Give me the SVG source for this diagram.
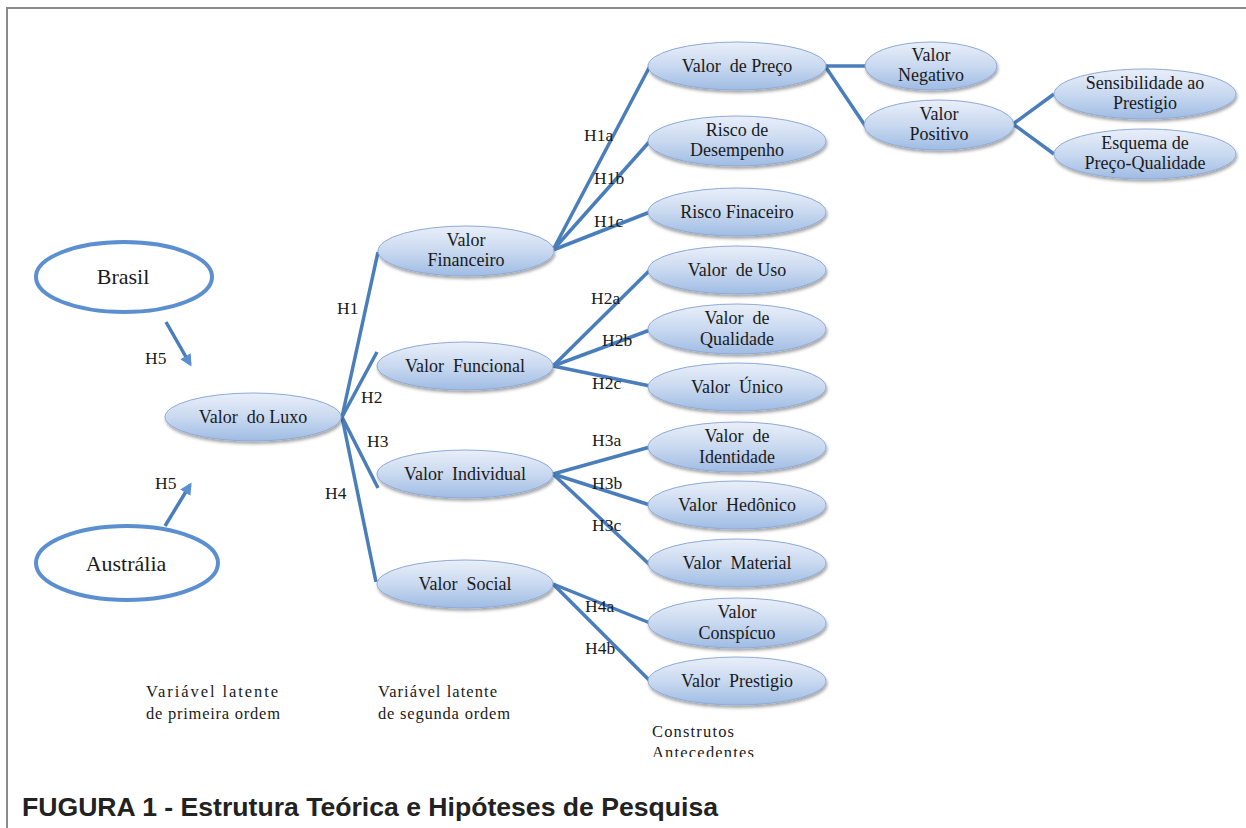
<svg xmlns="http://www.w3.org/2000/svg" width="1246" height="828" viewBox="0 0 1246 828">
<style>
.n{fill:url(#g);stroke:#8eaad6;stroke-width:1;filter:url(#sh)}
.o{fill:none;stroke:#5b8fd0;stroke-width:4}
.t{font-family:"Liberation Serif",serif;font-size:18px;fill:#1a1a1a;text-anchor:middle;white-space:pre}
.h{font-family:"Liberation Serif",serif;font-size:17.5px;fill:#1a1a1a}
.b{font-family:"Liberation Serif",serif;font-size:16.5px;fill:#1a1a1a}
.c line,.c path{stroke:#4a7ebb;stroke-width:3.5;fill:none}
</style>
<defs>
<linearGradient id="g" x1="0" y1="0" x2="0" y2="1">
<stop offset="0" stop-color="#e9eff9"/>
<stop offset="0.5" stop-color="#c9d9f0"/>
<stop offset="1" stop-color="#9fbce4"/>
</linearGradient>
<filter id="sh" x="-10%" y="-20%" width="120%" height="150%">
<feDropShadow dx="1" dy="2.5" stdDeviation="1.5" flood-color="#000" flood-opacity="0.35"/>
</filter>
<marker id="ah" markerWidth="14" markerHeight="14" refX="9" refY="6" orient="auto" markerUnits="userSpaceOnUse">
<path d="M0,0 L12,6 L0,12 Z" fill="#5b8fd0"/>
</marker>
<clipPath id="cl"><rect x="0" y="0" width="1246" height="757"/></clipPath>
</defs>
<rect width="1246" height="828" fill="#fff"/>
<path d="M7,828 V8 H1246" fill="none" stroke="#8a8a8a" stroke-width="2"/>

<g class="c" id="connectors">
<line x1="342" y1="417" x2="378" y2="252"/>
<line x1="342" y1="417" x2="377" y2="352"/>
<line x1="342" y1="417" x2="378" y2="488"/>
<line x1="342" y1="417" x2="376" y2="582"/>
<line x1="553" y1="250" x2="650" y2="66"/>
<line x1="553" y1="250" x2="650" y2="141"/>
<line x1="553" y1="250" x2="650" y2="212"/>
<line x1="553" y1="366" x2="650" y2="270"/>
<line x1="553" y1="366" x2="650" y2="330"/>
<line x1="553" y1="366" x2="650" y2="386"/>
<line x1="553" y1="474" x2="650" y2="447"/>
<line x1="553" y1="474" x2="650" y2="505"/>
<line x1="553" y1="474" x2="650" y2="565"/>
<line x1="553" y1="584" x2="650" y2="623"/>
<line x1="553" y1="584" x2="650" y2="681"/>
<path d="M825,66 H866"/>
<line x1="825" y1="66" x2="866" y2="127"/>
<line x1="1013" y1="124" x2="1054" y2="94"/>
<line x1="1013" y1="124" x2="1054" y2="154"/>
<line x1="166" y1="322" x2="190" y2="364" stroke="#5b8fd0" marker-end="url(#ah)"/>
<line x1="165" y1="526" x2="190" y2="485" stroke="#5b8fd0" marker-end="url(#ah)"/>
</g>

<g id="labels">
<text class="h" x="337" y="314">H1</text>
<text class="h" x="361" y="403">H2</text>
<text class="h" x="367" y="447">H3</text>
<text class="h" x="325" y="499">H4</text>
<text class="h" x="145" y="364">H5</text>
<text class="h" x="155" y="489">H5</text>
<text class="h" x="584" y="141">H1a</text>
<text class="h" x="594" y="184">H1b</text>
<text class="h" x="594" y="227">H1c</text>
<text class="h" x="591" y="304">H2a</text>
<text class="h" x="602" y="346">H2b</text>
<text class="h" x="592" y="389">H2c</text>
<text class="h" x="592" y="446">H3a</text>
<text class="h" x="592" y="489">H3b</text>
<text class="h" x="592" y="531">H3c</text>
<text class="h" x="585" y="612">H4a</text>
<text class="h" x="585" y="654">H4b</text>
</g>

<g id="brasil"><ellipse class="o" cx="124" cy="277" rx="88" ry="35"/><text class="t" x="123" y="284" style="font-size:22px">Brasil</text></g>
<g id="australia"><ellipse class="o" cx="127" cy="563" rx="91" ry="37"/><text class="t" x="126" y="571" style="font-size:22px">Austrália</text></g>

<g id="luxo"><ellipse class="n" cx="253" cy="417" rx="88" ry="24"/><text class="t" x="253" y="423">Valor  do Luxo</text></g>
<g id="financeiro"><ellipse class="n" cx="466" cy="251" rx="88" ry="25"/><text class="t" x="466" y="246">Valor</text><text class="t" x="466" y="266">Financeiro</text></g>
<g id="funcional"><ellipse class="n" cx="465" cy="366" rx="88" ry="24"/><text class="t" x="465" y="372">Valor  Funcional</text></g>
<g id="individual"><ellipse class="n" cx="465" cy="474" rx="88" ry="24"/><text class="t" x="465" y="480">Valor  Individual</text></g>
<g id="social"><ellipse class="n" cx="465" cy="584" rx="88" ry="24"/><text class="t" x="465" y="590">Valor  Social</text></g>

<g id="preco"><ellipse class="n" cx="737" cy="66" rx="89" ry="24"/><text class="t" x="737" y="72">Valor  de Preço</text></g>
<g id="desempenho"><ellipse class="n" cx="737" cy="141" rx="89" ry="25"/><text class="t" x="737" y="136">Risco de</text><text class="t" x="737" y="156">Desempenho</text></g>
<g id="finaceiro"><ellipse class="n" cx="737" cy="212" rx="89" ry="24"/><text class="t" x="737" y="218">Risco Finaceiro</text></g>
<g id="uso"><ellipse class="n" cx="737" cy="270" rx="89" ry="24"/><text class="t" x="737" y="276">Valor  de Uso</text></g>
<g id="qualidade"><ellipse class="n" cx="737" cy="329" rx="89" ry="25"/><text class="t" x="737" y="324">Valor  de</text><text class="t" x="737" y="345">Qualidade</text></g>
<g id="unico"><ellipse class="n" cx="737" cy="387" rx="89" ry="24"/><text class="t" x="737" y="393">Valor  Único</text></g>
<g id="identidade"><ellipse class="n" cx="737" cy="447" rx="89" ry="25"/><text class="t" x="737" y="442">Valor  de</text><text class="t" x="737" y="463">Identidade</text></g>
<g id="hedonico"><ellipse class="n" cx="737" cy="505" rx="89" ry="24"/><text class="t" x="737" y="511">Valor  Hedônico</text></g>
<g id="material"><ellipse class="n" cx="737" cy="563" rx="89" ry="24"/><text class="t" x="737" y="569">Valor  Material</text></g>
<g id="conspicuo"><ellipse class="n" cx="737" cy="623" rx="89" ry="25"/><text class="t" x="737" y="618">Valor</text><text class="t" x="737" y="639">Conspícuo</text></g>
<g id="prestigio"><ellipse class="n" cx="737" cy="681" rx="89" ry="24"/><text class="t" x="737" y="687">Valor  Prestigio</text></g>

<g id="negativo"><ellipse class="n" cx="931" cy="66" rx="66" ry="24"/><text class="t" x="931" y="61">Valor</text><text class="t" x="931" y="81">Negativo</text></g>
<g id="positivo"><ellipse class="n" cx="939" cy="125" rx="75" ry="25"/><text class="t" x="939" y="120">Valor</text><text class="t" x="939" y="140">Positivo</text></g>
<g id="sensibilidade"><ellipse class="n" cx="1145" cy="94" rx="91" ry="25"/><text class="t" x="1145" y="89">Sensibilidade ao</text><text class="t" x="1145" y="109">Prestigio</text></g>
<g id="esquema"><ellipse class="n" cx="1145" cy="154" rx="91" ry="25"/><text class="t" x="1145" y="149">Esquema de</text><text class="t" x="1145" y="169">Preço-Qualidade</text></g>

<g id="legend">
<text class="b" x="146" y="697" textLength="132">Variável latente</text>
<text class="b" x="146" y="719" textLength="134">de primeira ordem</text>
<text class="b" x="378" y="697" textLength="119">Variável latente</text>
<text class="b" x="378" y="719" textLength="132">de segunda ordem</text>
<g clip-path="url(#cl)">
<text class="b" x="652" y="737" textLength="82">Construtos</text>
<text class="b" x="652" y="758" textLength="102">Antecedentes</text>
</g>
</g>

<text x="22" y="816" font-family="Liberation Sans,Arial,sans-serif" font-weight="bold" font-size="25" fill="#222" textLength="696" lengthAdjust="spacingAndGlyphs">FUGURA 1 - Estrutura Teórica e Hipóteses de Pesquisa</text>
</svg>
